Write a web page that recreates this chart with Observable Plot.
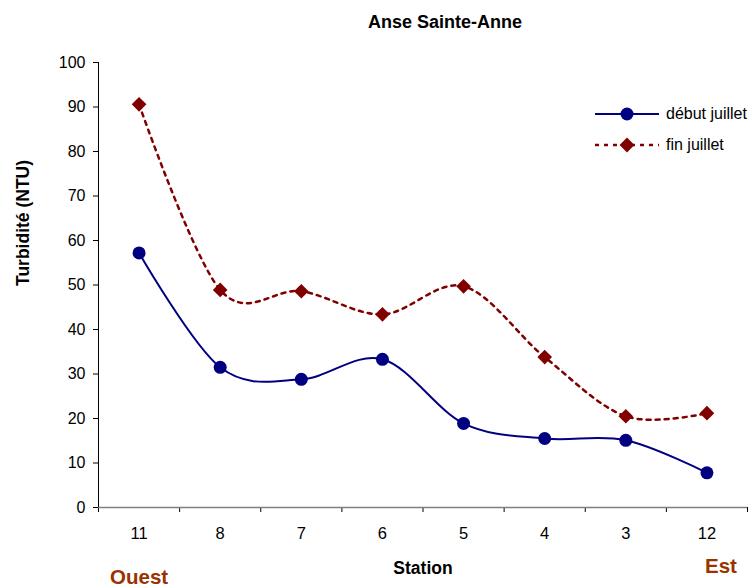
<!DOCTYPE html>
<html><head><meta charset="utf-8">
<script src="https://cdn.jsdelivr.net/npm/d3@7"></script>
<script src="https://cdn.jsdelivr.net/npm/@observablehq/plot@0.6"></script>
<style>
body{margin:0;background:#fff;}
#wrap{position:relative;width:756px;height:588px;font-family:"Liberation Sans",Arial,sans-serif;}
.leg{position:absolute;left:593px;height:20px;display:flex;align-items:center;font-size:16px;color:#000;white-space:nowrap;}
.leg svg{margin-right:6px;}
</style>
</head><body><div id="wrap"></div>
<script>
const stations = ["11","8","7","6","5","4","3","12"];
const debutJuillet = [57.2,31.5,28.8,33.3,18.9,15.5,15.1,7.8];
const finJuillet = [90.6,48.9,48.6,43.4,49.7,33.8,20.5,21.2];
const seriesNames = ["début juillet","fin juillet"];
const seriesColors = ["#000080","#800000"];
const chartTitle = "Anse Sainte-Anne";
const yLabel = "Turbidité (NTU)";
const xLabel = "Station";
const westLabel = "Ouest";
const eastLabel = "Est";

const debutData = stations.map((s,i)=>({station:s,pos:i+0.5,value:debutJuillet[i]}));
const finData = stations.map((s,i)=>({station:s,pos:i+0.5,value:finJuillet[i]}));
const font = "Liberation Sans, Arial, sans-serif";

const chart = Plot.plot({
  width:756, height:588,
  marginLeft:98, marginRight:9, marginTop:62, marginBottom:81,
  style:{fontFamily:font, fontSize:"16px", color:"#000", background:"#fff", overflow:"visible"},
  x:{domain:[0,stations.length], ticks:stations.length, tickFormat:()=>"", tickSize:5, label:null},
  y:{domain:[0,100], ticks:10, tickSize:5, tickPadding:8, label:null},
  marks:[
    Plot.ruleY([0],{stroke:"#808080", strokeWidth:1.5}),
    Plot.ruleX([0],{stroke:"#000"}),
    Plot.line(finData,{x:"pos",y:"value",curve:"cardinal",stroke:seriesColors[1],strokeWidth:2.5,strokeDasharray:"4,5"}),
    Plot.line(debutData,{x:"pos",y:"value",curve:"cardinal",stroke:seriesColors[0],strokeWidth:2}),
    Plot.dot(debutData,{x:"pos",y:"value",r:6.5,fill:seriesColors[0],stroke:null}),
    Plot.dot(finData,{x:"pos",y:"value",symbol:"diamond2",r:6.6,fill:seriesColors[1],stroke:null}),
    Plot.text(stations,{x:(d,i)=>i+0.5,y:()=>0,text:d=>d,dy:26,fontSize:16.5,fill:"#000",lineAnchor:"middle"}),
    Plot.text([chartTitle],{frameAnchor:"top",lineAnchor:"middle",dx:22,dy:-40,fontWeight:"bold",fontSize:18,fill:"#000"}),
    Plot.text([yLabel],{frameAnchor:"left",lineAnchor:"middle",dx:-75,dy:1,rotate:-90,fontWeight:"bold",fontSize:17.5,fill:"#000"}),
    Plot.text([xLabel],{frameAnchor:"bottom",lineAnchor:"middle",dx:0,dy:61,fontWeight:"bold",fontSize:17.5,fill:"#000"}),
    Plot.text([westLabel],{x:()=>0.5,y:()=>0,dy:70,lineAnchor:"middle",fontWeight:"bold",fontSize:20.5,fill:"#993300"}),
    Plot.text([eastLabel],{x:()=>stations.length-0.5,y:()=>0,dx:14,dy:59,lineAnchor:"middle",fontWeight:"bold",fontSize:20.5,fill:"#993300"})
  ]
});
const wrap = document.getElementById("wrap");
wrap.appendChild(chart);

// legend
const legTops = [104, 135];
seriesNames.forEach((name,k)=>{
  const div = document.createElement("div");
  div.className = "leg";
  div.style.top = legTops[k]+"px";
  const c = seriesColors[k];
  const marker = k===0
    ? `<circle cx="34" cy="10" r="6.5" fill="${c}"/>`
    : `<path d="M34,2.6L41.4,10L34,17.4L26.6,10Z" fill="${c}"/>`;
  const dash = k===0 ? "" : `stroke-dasharray="4,5"`;
  div.innerHTML = `<svg width="67" height="20"><line x1="2" y1="10" x2="66" y2="10" stroke="${c}" stroke-width="${k===0?2:2.5}" ${dash}/>${marker}</svg><span>${name}</span>`;
  wrap.appendChild(div);
});
</script>
</body></html>
